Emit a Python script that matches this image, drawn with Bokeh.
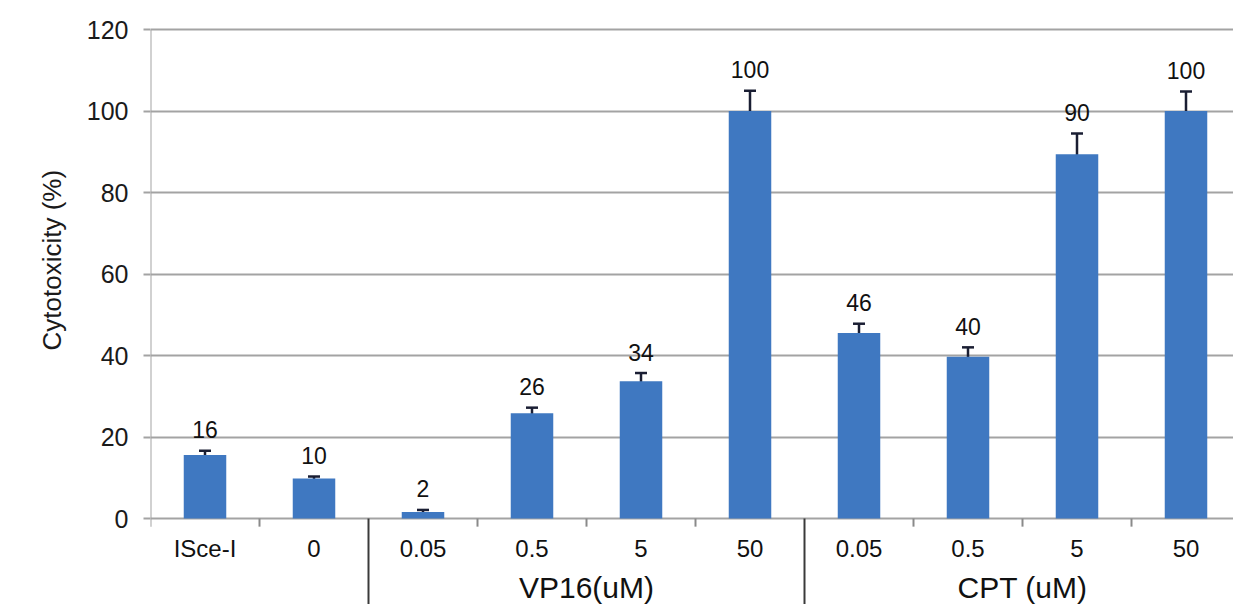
from bokeh.plotting import figure
from bokeh.models import Range1d, FixedTicker, ColumnDataSource, Whisker, TeeHead, Title
from bokeh.core.properties import value
from bokeh.embed import file_html
from bokeh.resources import INLINE

# ---- data ----
categories = ["ISce-I", "0", "0.05", "0.5", "5", "50", "0.05", "0.5", "5", "50"]
group_names = ["", "VP16(uM)", "CPT (uM)"]
group_sizes = [2, 4, 4]
cytotoxicity = [15.6, 9.8, 1.6, 25.8, 33.7, 100.0, 45.5, 39.7, 89.4, 100.0]
errors = [1.0, 0.5, 0.5, 1.4, 2.0, 5.0, 2.3, 2.3, 5.1, 4.8]
value_labels = ["16", "10", "2", "26", "34", "100", "46", "40", "90", "100"]
y_ticks = [0, 20, 40, 60, 80, 100, 120]
y_title = "Cytotoxicity (%)"

FONT = "Liberation Sans"
BAR = "#3f78c1"
GRID = "#a3a3a3"
ERR = "#1a1e33"
TXT = "#111111"

n = len(categories)
xs = [i + 0.5 for i in range(n)]

# ---- layout geometry (pixels) ----
W, H = 1233, 604
left = 150          # frame left edge
top = 19            # frame top edge
cat_px = 109        # pixels per category
px_per_unit = 4.075 # pixels per percent
y_end = 120 + 10 / px_per_unit
y_start = y_end - (H - top) / px_per_unit
x_end = (W - left) / cat_px

p = figure(width=W, height=H, output_backend="svg", toolbar_location=None,
           x_range=Range1d(0, x_end), y_range=Range1d(y_start, y_end),
           min_border_left=left, min_border_right=0, min_border_top=top,
           min_border_bottom=0)
p.outline_line_color = None
p.background_fill_color = "white"
p.border_fill_color = "white"

# axes
p.xaxis.visible = False
p.xgrid.visible = False
yax = p.yaxis[0]
yax.ticker = FixedTicker(ticks=y_ticks)
yax.axis_line_color = None
yax.major_tick_line_color = GRID
yax.major_tick_line_width = 2
yax.major_tick_out = 7
yax.major_tick_in = 0
yax.minor_tick_line_color = None
yax.major_label_standoff = 15
yax.major_label_text_font = FONT
yax.major_label_text_font_size = "25px"
yax.major_label_text_color = "#1a1a1a"
p.ygrid.ticker = FixedTicker(ticks=y_ticks)
p.ygrid.grid_line_color = GRID
p.ygrid.grid_line_width = 2

# y-axis title (a left-side title so it can sit higher than the frame centre)
p.add_layout(Title(text=y_title, align="left", offset=254, standoff=34,
                   text_font=FONT, text_font_size="26px", text_font_style="normal",
                   text_color="#1a1a1a"), "left")

# y-axis line
p.segment(x0=[0], y0=[-2], x1=[0], y1=[max(y_ticks)], line_color=GRID, line_width=2)

# boundary ticks and group separators
bounds = []
acc = 0
for s in group_sizes:
    acc += s
    bounds.append(acc)
small = [b for b in range(1, n) if b not in bounds]
p.segment(x0=small, y0=[0] * len(small), x1=small, y1=[-2] * len(small),
          line_color="#8a8a8a", line_width=2)
seps = bounds[:-1]
p.segment(x0=seps, y0=[0] * len(seps), x1=seps, y1=[y_start] * len(seps),
          line_color="#3a3a3a", line_width=2)

# bars
src = ColumnDataSource(dict(
    x=xs, top=cytotoxicity,
    upper=[v + e for v, e in zip(cytotoxicity, errors)],
    lower=[v - e for v, e in zip(cytotoxicity, errors)],
    lab=value_labels, cat=categories, zero=[0] * n))
p.vbar(x="x", top="top", width=0.39, source=src, fill_color=BAR, line_color=None)

# error bars
w = Whisker(base="x", upper="upper", lower="lower", source=src,
            line_color=ERR, line_width=2.5,
            upper_head=TeeHead(size=12, line_color=ERR, line_width=2.5),
            lower_head=TeeHead(size=12, line_color=ERR, line_width=2.5))
p.add_layout(w)

# value labels
p.text(x="x", y="upper", text="lab", source=src, text_align="center",
       text_baseline="middle", y_offset=-21, text_font=value(FONT),
       text_font_size="23px", text_color=TXT)

# category labels
p.text(x="x", y="zero", text="cat", source=src, text_align="center",
       text_baseline="middle", y_offset=30, text_font=value(FONT),
       text_font_size="24px", text_color=TXT)

# group labels
gx, gt = [], []
start = 0
for name, s in zip(group_names, group_sizes):
    if name:
        gx.append(start + s / 2)
        gt.append(name)
    start += s
p.text(x=gx, y=[0] * len(gx), text=gt, text_align="center", text_baseline="bottom",
       y_offset=85, text_font=value(FONT), text_font_size="30px", text_color=TXT)

open("out.html", "w").write(file_html(p, INLINE))
